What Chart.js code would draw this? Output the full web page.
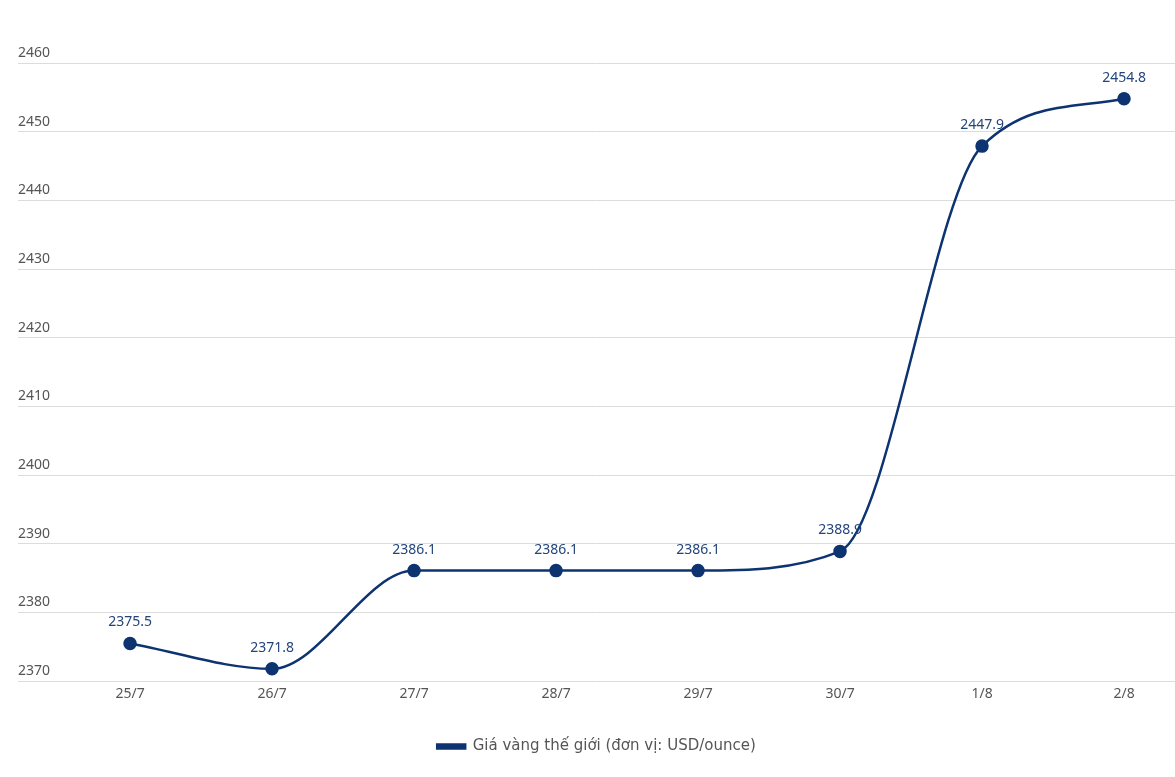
<!DOCTYPE html>
<html>
<head>
<meta charset="utf-8">
<script src="https://cdn.jsdelivr.net/npm/chart.js@4.4.1/dist/chart.umd.min.js"></script>
<style>
  html, body { margin: 0; padding: 0; background: #fff; overflow: hidden; }
  #wrap { width: 1175px; height: 777px; position: relative; }
</style>
</head>
<body>
<div id="wrap"><canvas id="goldChart"></canvas></div>
<script>
const days = ['25/7', '26/7', '27/7', '28/7', '29/7', '30/7', '1/8', '2/8'];
const prices = [2375.5, 2371.8, 2386.1, 2386.1, 2386.1, 2388.9, 2447.9, 2454.8];
const yTicks = [2370, 2380, 2390, 2400, 2410, 2420, 2430, 2440, 2450, 2460];

const lineColor = '#0d3470';

// value labels above each point
const valueLabels = {
  id: 'valueLabels',
  afterDatasetsDraw(chart) {
    const ctx = chart.ctx;
    const meta = chart.getDatasetMeta(0);
    ctx.save();
    ctx.font = '14px "Noto Sans"';
    ctx.fillStyle = '#23457a';
    ctx.textAlign = 'center';
    ctx.textBaseline = 'middle';
    meta.data.forEach((pt, i) => {
      ctx.fillText(prices[i].toFixed(1), pt.x, pt.y - 21);
    });
    ctx.restore();
  }
};

const noSidePad = (s) => { s.paddingRight = 0; s.paddingLeft = 0; };

const ctx = document.getElementById('goldChart').getContext('2d');
const myChart = new Chart(ctx, {
  type: 'line',
  data: {
    datasets: [{
      label: 'Giá vàng thế giới (đơn vị: USD/ounce)',
      data: prices.map((v, i) => ({ x: i, y: v })),
      borderColor: lineColor,
      backgroundColor: lineColor,
      borderWidth: 2.5,
      pointRadius: 5.5,
      pointHoverRadius: 5.5,
      pointBackgroundColor: lineColor,
      pointBorderColor: lineColor,
      cubicInterpolationMode: 'monotone'
    }]
  },
  options: {
    responsive: true,
    maintainAspectRatio: false,
    animation: false,
    layout: { autoPadding: false, padding: { left: 18, right: 0, top: 63, bottom: 13 } },
    scales: {
      x: {
        type: 'linear',
        min: -0.789,
        max: 7.359,
        grid: { display: false, drawTicks: false },
        border: { display: false },
        afterFit: (s) => { noSidePad(s); s.height += 3; },
        ticks: {
          stepSize: 1,
          includeBounds: false,
          autoSkip: false,
          maxRotation: 0,
          padding: 4,
          color: '#555',
          font: { family: 'Noto Sans', size: 14 },
          callback: (v) => days[v] ?? ''
        }
      },
      y: {
        min: yTicks[0],
        max: yTicks[yTicks.length - 1],
        grid: { color: '#dcdcdc', lineWidth: 1, drawTicks: false },
        border: { display: false },
        afterFit: noSidePad,
        afterBuildTicks: (axis) => { axis.ticks = yTicks.map(v => ({ value: v })); },
        ticks: {
          mirror: true,
          padding: 0,
          labelOffset: -10,
          color: '#555',
          font: { family: 'Noto Sans', size: 14 },
          callback: (v) => String(v)
        }
      }
    },
    plugins: {
      legend: {
        position: 'bottom',
        labels: {
          boxWidth: 28,
          boxHeight: 4,
          padding: 30,
          color: '#555',
          font: { family: 'DejaVu Sans', size: 15 }
        }
      },
      tooltip: { enabled: false }
    }
  },
  plugins: [valueLabels]
});
</script>
</body>
</html>
